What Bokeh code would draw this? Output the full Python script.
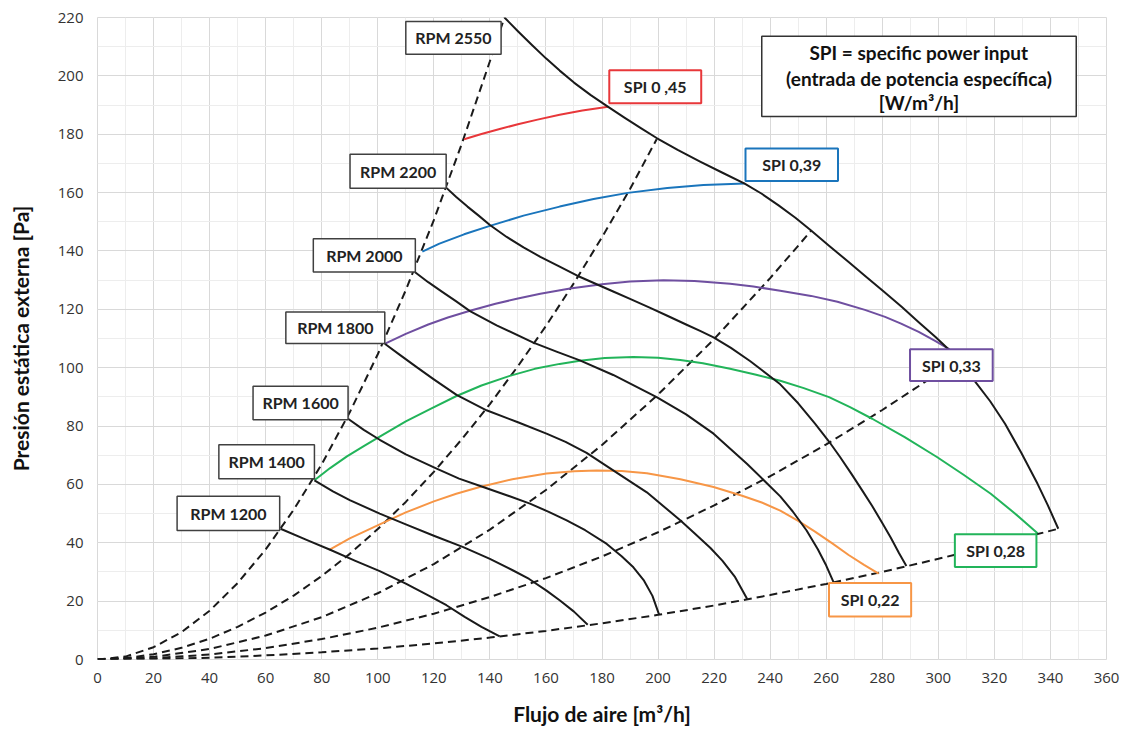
from bokeh.plotting import figure
from bokeh.models import Range1d, SingleIntervalTicker
from bokeh.core.properties import value
from bokeh.embed import file_html
from bokeh.resources import INLINE

# ---- fan curves (RPM) ----
rpm1200_x = [65.3, 75, 83, 92, 100.7, 110, 118, 124.5, 131, 137, 143.5]
rpm1200_y = [44.8, 40.8, 37.6, 33.8, 30.3, 26.0, 22.0, 18.6, 14.6, 11.2, 7.9]
rpm1400_x = [77.4, 84, 90, 100.7, 110, 120, 130.5, 140, 148.3, 154, 160.2, 165, 170, 174.9]
rpm1400_y = [61.4, 57.6, 54.6, 50.0, 46.3, 42.4, 38.5, 34.5, 30.5, 27.6, 23.6, 20.2, 16.4, 11.9]
rpm1600_x = [89.4, 95, 100.7, 110, 121, 129, 137.6, 146, 154.3, 161, 167.4, 174, 181.7, 187, 191.2, 195, 198, 200.4]
rpm1600_y = [82.5, 78.7, 75.3, 70.3, 65.4, 62.0, 59.1, 56.3, 53.4, 50.6, 47.7, 44.3, 39.6, 35.4, 31.6, 27.0, 21.8, 15.3]
rpm1800_x = [102.5, 108, 114, 120, 128.1, 138.8, 150, 160.2, 167, 174.5, 184, 196, 207.8, 213, 218.7, 223, 227.5, 231.8]
rpm1800_y = [108.2, 104.3, 100.1, 96.0, 90.7, 85.4, 81.3, 77.4, 74.6, 70.8, 64.8, 57.3, 47.8, 43.3, 38.2, 33.8, 28.2, 20.7]
rpm2000_x = [113.2, 118, 123, 128, 132.9, 142.4, 155.5, 164, 172.1, 184, 199.5, 210, 219.8, 231.7, 243.6, 248, 253, 257, 260, 262.6]
rpm2000_y = [132.8, 129.3, 126.0, 122.7, 119.4, 114.5, 108.6, 105.4, 102.5, 97.5, 89.9, 84.0, 77.4, 67.1, 55.9, 50.8, 44.2, 37.8, 32.2, 26.5]
rpm2200_x = [124.4, 128, 132, 136, 140, 146, 152, 158, 164.9, 171, 178.1, 184, 190, 197, 203.3, 210, 215, 219.8,
             226, 232.8, 237, 243.6, 250, 256, 261, 265, 269, 273, 276.4, 280, 283, 286, 288.6]
rpm2200_y = [161.7, 158.5, 155.2, 152.1, 148.9, 144.8, 141.2, 138.0, 134.6, 131.6, 128.6, 126.1, 123.6, 120.6, 117.8,
             114.8, 112.6, 110.4, 106.8, 102.3, 99.2, 94.3, 87.8, 80.8, 74.7, 69.3, 63.6, 57.7, 52.6, 46.8, 41.8, 36.4, 32.0]
rpm2550_x = [145.2, 150, 155, 160, 164.9, 170, 176, 182.2, 188, 194, 199.5, 207, 215, 223, 230.9, 237, 243, 249,
             254.6, 261, 268, 274, 280.3, 287, 293, 299, 304, 308.5, 313, 318.5, 323.8, 329.5, 335.4, 339, 342.8]
rpm2550_y = [220, 215.3, 210.6, 206.0, 201.8, 197.7, 193.4, 189.4, 185.7, 182.0, 178.7, 174.6, 170.6, 166.8, 163.1,
             159.6, 155.6, 151.4, 147.0, 141.8, 136.2, 131.3, 126.3, 120.8, 115.6, 110.5, 106.0, 101.0, 95.4, 88.5,
             80.8, 71.0, 60.2, 53.0, 44.8]

# ---- system curves (dashed) ----
sys1_x = [0, 10, 20, 30, 40, 50, 60, 70, 80, 90, 100, 110, 120, 130, 140, 145.2]
sys1_y = [0, 1.0, 4.2, 9.4, 16.7, 26.2, 37.7, 51.3, 66.9, 84.7, 104.6, 126.6, 150.6, 176.8, 205, 220]
sys2_x = [0, 10, 20, 30, 40, 50, 60, 70, 80, 90, 100, 110, 120, 130, 140, 150, 160, 170, 180, 190, 199.5]
sys2_y = [0, 0.45, 1.8, 4.0, 7.1, 11.2, 16.1, 21.9, 28.6, 36.2, 44.7, 54.0, 64.3, 75.5, 87.5, 100.5, 114.3,
          129.0, 144.7, 161.2, 178.3]
sys3_x = [0, 20, 40, 60, 80, 100, 120, 140, 160, 180, 200, 220, 240, 254.6]
sys3_y = [0, 0.9, 3.6, 8.2, 14.5, 22.7, 32.7, 44.5, 58.1, 73.5, 90.8, 109.8, 130.7, 146.9]
sys4_x = [0, 20, 40, 60, 80, 100, 120, 140, 160, 180, 200, 220, 240, 260, 280, 300, 307]
sys4_y = [0, 0.44, 1.7, 3.9, 7.0, 10.9, 15.7, 21.4, 27.9, 35.3, 43.6, 52.8, 62.8, 73.7, 85.5, 98.1, 102.5]
sys5_x = [0, 20, 40, 60, 80, 100, 120, 140, 160, 180, 200, 220, 240, 260, 280, 300, 320, 342.8]
sys5_y = [0, 0.15, 0.6, 1.4, 2.5, 3.8, 5.5, 7.5, 9.8, 12.4, 15.3, 18.5, 22.1, 25.9, 30.0, 34.5, 39.2, 44.8]

# ---- SPI curves ----
spi045_x = [130.8, 137, 143.5, 150, 157, 164.9, 173, 182.2]
spi045_y = [178.3, 180.1, 181.8, 183.4, 185.0, 186.7, 188.1, 189.4]
spi039_x = [115.9, 122, 130.8, 140, 152, 164.9, 177, 189.2, 203.3, 216.2, 230.9]
spi039_y = [139.8, 142.5, 145.7, 148.6, 152.1, 155.2, 157.8, 159.9, 161.6, 162.6, 163.1]
spi033_x = [102.8, 110, 118, 125, 132.9, 142, 150, 158, 168.6, 180, 190, 201.9, 213, 225.7, 234, 243.6, 254.6,
            264, 273.8, 281, 286.7, 293, 299, 304]
spi033_y = [108.3, 111.6, 114.8, 117.2, 119.5, 121.9, 123.7, 125.3, 127.1, 128.6, 129.5, 130.0, 129.7, 128.8,
            127.8, 126.4, 124.6, 122.6, 119.8, 117.4, 115.1, 112.3, 109.1, 106.3]
spi028_x = [77.4, 83, 89, 95, 100.7, 110, 119, 128.1, 137, 147.1, 156, 164.9, 172.1, 181, 191.2, 200, 207.9,
            216, 225.7, 235, 243.6, 252, 261, 268.5, 276.4, 288, 299.5, 309, 318.7, 327, 335.4]
spi028_y = [61.4, 65.6, 69.6, 73.1, 76.4, 81.6, 86.0, 90.3, 93.9, 97.2, 99.6, 101.3, 102.4, 103.3, 103.7, 103.4,
            102.6, 101.5, 99.6, 97.6, 95.5, 93.0, 89.9, 86.5, 82.5, 76.2, 69.4, 63.3, 56.8, 50.3, 43.3]
spi022_x = [82.7, 90, 100.7, 110, 120, 128, 136.4, 148, 160.2, 170, 178.1, 187, 196, 208, 219.8, 230, 237,
            243.6, 250, 256, 262.3, 268, 273.5, 278.7]
spi022_y = [37.6, 41.5, 46.3, 50.4, 54.2, 56.8, 59.1, 61.8, 63.7, 64.5, 64.8, 64.6, 63.8, 61.8, 59.1, 56.1, 53.8,
            51.0, 47.5, 43.8, 39.7, 35.8, 32.4, 29.4]

# ---- labels ----
rpm_labels = ["RPM 2550", "RPM 2200", "RPM 2000", "RPM 1800", "RPM 1600", "RPM 1400", "RPM 1200"]
rpm_left = [110.0, 90.1, 77.0, 67.2, 55.5, 43.3, 28.4]
rpm_right = [144.0, 124.4, 113.4, 102.5, 89.4, 77.4, 65.0]
rpm_top = [218.6, 173.1, 144.2, 119.1, 93.6, 73.6, 55.9]
rpm_bottom = [207.4, 161.5, 132.8, 108.3, 82.2, 61.9, 44.2]

spi_labels = ["SPI 0 ,45", "SPI 0,39", "SPI 0,33", "SPI 0,28", "SPI 0,22"]
spi_left = [182.6, 231.2, 289.9, 305.9, 261.0]
spi_right = [215.4, 264.2, 319.4, 335.0, 290.3]
spi_top = [201.9, 175.1, 106.3, 42.9, 26.2]
spi_bottom = [190.6, 164.0, 95.4, 31.7, 14.7]

note_lines = ["SPI = specific power input", "(entrada de potencia específica)", "[W/m³/h]"]
note_y = [208.0, 199.2, 190.9]
note_box = [237.0, 349.2, 186.1, 213.6]  # left, right, bottom, top

RED = "#e8373a"
BLUE = "#1a75bc"
PURPLE = "#6f4fa0"
GREEN = "#22b45a"
ORANGE = "#f79646"
spi_colors = [RED, BLUE, PURPLE, GREEN, ORANGE]

p = figure(frame_width=1009, frame_height=642,
           x_range=Range1d(0, 360), y_range=Range1d(0, 220),
           output_backend="svg", toolbar_location=None,
           min_border_left=97, min_border_top=17, min_border_right=14, min_border_bottom=20)

p.xaxis.ticker = SingleIntervalTicker(interval=20, num_minor_ticks=2)
p.yaxis.ticker = SingleIntervalTicker(interval=20, num_minor_ticks=2)
for g in (p.xgrid, p.ygrid):
    g.grid_line_color = "#d9d9d9"
    g.grid_line_width = 1
    g.minor_grid_line_color = "#ededed"
    g.minor_grid_line_width = 1
p.outline_line_color = "#d9d9d9"
for ax in (p.xaxis, p.yaxis):
    ax.axis_line_color = None
    ax.major_tick_line_color = None
    ax.minor_tick_line_color = None
    ax.major_tick_out = 0
    ax.major_tick_in = 0
    ax.minor_tick_out = 0
    ax.minor_tick_in = 0
    ax.major_label_text_font = "Open Sans"
    ax.major_label_text_font_size = "15px"
    ax.major_label_text_color = "#333333"
    ax.axis_label_text_font = "Lato"
    ax.axis_label_text_font_style = "bold"
    ax.axis_label_text_font_size = "21px"
    ax.axis_label_text_color = "#111111"
p.xaxis.axis_label = "Flujo de aire [m³/h]"
p.yaxis.axis_label = "Presión estática externa [Pa]"
p.xaxis.major_label_standoff = 13
p.yaxis.major_label_standoff = 14
p.xaxis.axis_label_standoff = 15
p.yaxis.axis_label_standoff = 22

# dashed system curves
for xs, ys in [(sys1_x, sys1_y), (sys2_x, sys2_y), (sys3_x, sys3_y), (sys4_x, sys4_y), (sys5_x, sys5_y)]:
    p.line(xs, ys, line_color="#1a1a1a", line_width=2, line_dash="8 5")

# SPI curves
for xs, ys, c in [(spi045_x, spi045_y, RED), (spi039_x, spi039_y, BLUE), (spi033_x, spi033_y, PURPLE),
                  (spi028_x, spi028_y, GREEN), (spi022_x, spi022_y, ORANGE)]:
    p.line(xs, ys, line_color=c, line_width=2, line_join="round")

# fan curves
for xs, ys in [(rpm1200_x, rpm1200_y), (rpm1400_x, rpm1400_y), (rpm1600_x, rpm1600_y), (rpm1800_x, rpm1800_y),
               (rpm2000_x, rpm2000_y), (rpm2200_x, rpm2200_y), (rpm2550_x, rpm2550_y)]:
    p.line(xs, ys, line_color="#1a1a1a", line_width=2, line_join="round")

# RPM label boxes
p.quad(left=rpm_left, right=rpm_right, top=rpm_top, bottom=rpm_bottom,
       fill_color="white", line_color="#404040", line_width=1.5)
p.text(x=[(a + b) / 2 for a, b in zip(rpm_left, rpm_right)],
       y=[(a + b) / 2 for a, b in zip(rpm_top, rpm_bottom)],
       text=rpm_labels, text_font=value("Lato"), text_font_style="bold",
       text_font_size="16px", text_color="#222222", text_align="center", text_baseline="middle")

# SPI label boxes
p.quad(left=spi_left, right=spi_right, top=spi_top, bottom=spi_bottom,
       fill_color="white", line_color=spi_colors, line_width=2)
p.text(x=[(a + b) / 2 for a, b in zip(spi_left, spi_right)],
       y=[(a + b) / 2 for a, b in zip(spi_top, spi_bottom)],
       text=spi_labels, text_font=value("Lato"), text_font_style="bold",
       text_font_size="16px", text_color="#222222", text_align="center", text_baseline="middle")

# note box
p.quad(left=[note_box[0]], right=[note_box[1]], bottom=[note_box[2]], top=[note_box[3]],
       fill_color="white", line_color="#333333", line_width=1.5)
p.text(x=[(note_box[0] + note_box[1]) / 2] * 3, y=note_y, text=note_lines,
       text_font=value("Lato"), text_font_style="bold", text_font_size="19px",
       text_color="#111111", text_align="center", text_baseline="middle")

open("out.html", "w").write(file_html(p, INLINE))
